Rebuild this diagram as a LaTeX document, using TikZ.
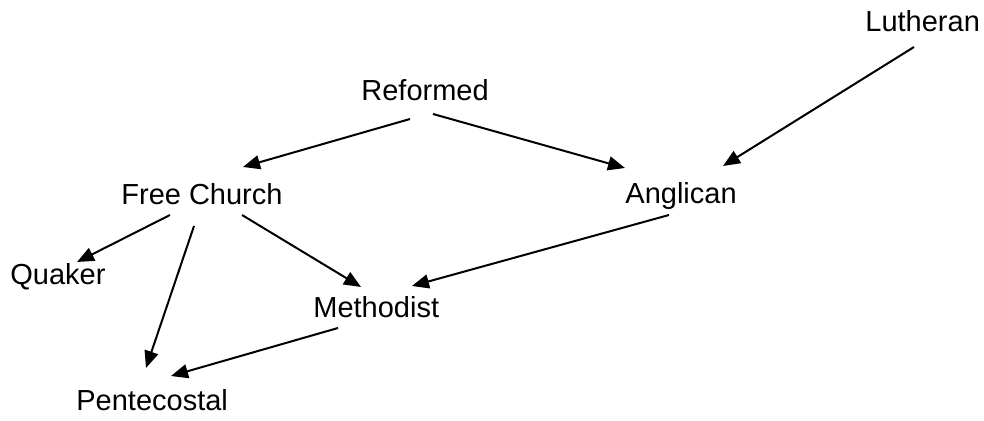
\documentclass[tikz,border=0pt]{standalone}
\usepackage{fontspec}
\setmainfont{Liberation Sans}
\usetikzlibrary{arrows.meta}
\begin{document}
\begin{tikzpicture}[x=0.5pt, y=-0.5pt,
		church/.style={anchor=base west, inner sep=0pt, font=\fontsize{14.5}{17}\selectfont},
		descent/.style={-{Triangle[length=8.5pt, width=7pt]}, line width=1pt}]
			\useasboundingbox (0,0) rectangle (984,421);

			% Churches
			\node[church] (lut) at (865,32) {Lutheran};
			\node[church] (ref) at (361,101) {Reformed};
			\node[church] (fc) at (121,205) {Free Church};
			\node[church] (ang) at (625,204) {Anglican};
			\node[church] (qua) at (10,285) {Quaker};
			\node[church] (met) at (313,318) {Methodist};
			\node[church] (pen) at (76,411) {Pentecostal};

			% Lines of descent
			\draw[descent] ([shift={(49,18)}]ref.base west) -- ([shift={(122,-38)}]fc.base west);
			\draw[descent] ([shift={(72,13)}]ref.base west) -- ([shift={(0,-36)}]ang.base west);
			\draw[descent] ([shift={(49,15)}]lut.base west) -- ([shift={(98,-38)}]ang.base west);
			\draw[descent] ([shift={(49,10)}]fc.base west) -- ([shift={(67,-23)}]qua.base west);
			\draw[descent] ([shift={(73,21)}]fc.base west) -- ([shift={(70,-43)}]pen.base west);
			\draw[descent] ([shift={(121,10)}]fc.base west) -- ([shift={(48,-31)}]met.base west);
			\draw[descent] ([shift={(44,11)}]ang.base west) -- ([shift={(99,-32)}]met.base west);
			\draw[descent] ([shift={(25,10)}]met.base west) -- ([shift={(95,-35)}]pen.base west);
		\end{tikzpicture}
\end{document}
